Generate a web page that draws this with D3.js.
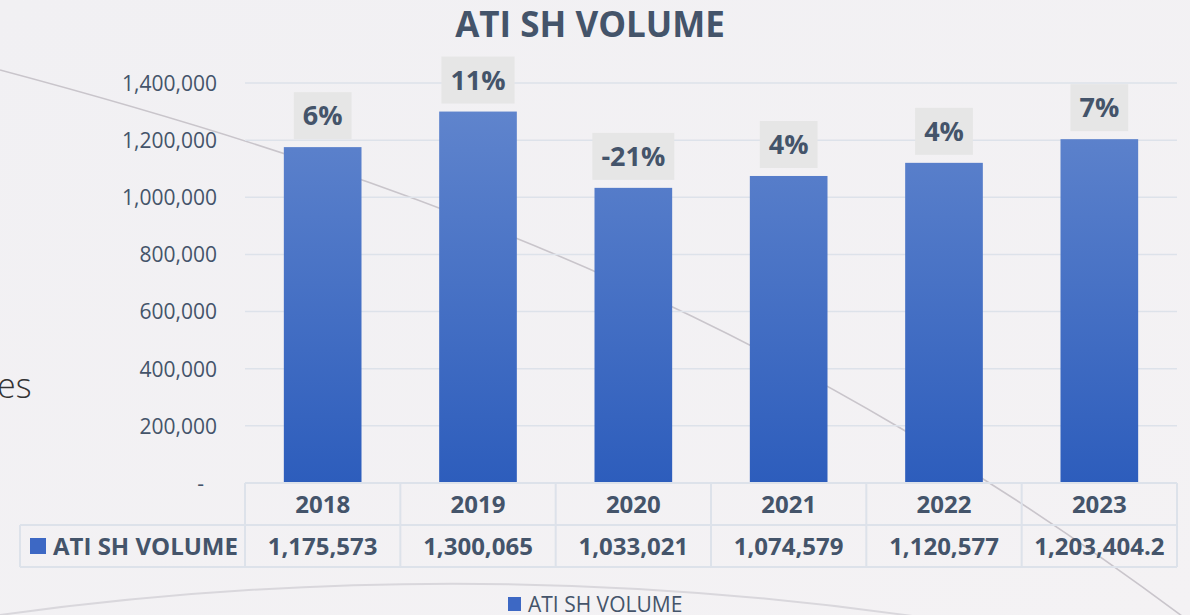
<!DOCTYPE html>
<html>
<head>
<meta charset="utf-8">
<script src="https://cdn.jsdelivr.net/npm/d3@7"></script>
<style>
    html, body { margin: 0; padding: 0; background: #f2f1f4; }
    svg { display: block; font-family: "Open Sans", "Noto Sans", sans-serif; }
</style>
</head>
<body>
<div id="chart"></div>
<script>
// Data
const years = ['2018', '2019', '2020', '2021', '2022', '2023'];
const volumes = [1175573, 1300065, 1033021, 1074579, 1120577, 1203404.2];
const volumeLabels = ['1,175,573', '1,300,065', '1,033,021', '1,074,579', '1,120,577', '1,203,404.2'];
const growthLabels = ['6%', '11%', '-21%', '4%', '4%', '7%'];
const yTicks = [0, 200000, 400000, 600000, 800000, 1000000, 1200000, 1400000];
const seriesName = 'ATI SH VOLUME';

const WIDTH = 1190;
const HEIGHT = 615;
const TEXT_COLOR = '#44546a';
const GRID_COLOR = '#dde2ea';

const plot = { left: 245, right: 1177, top: 83, bottom: 483 };
const rowHeight = 42;

const svg = d3.select('#chart')
    .append('svg')
    .attr('width', WIDTH)
    .attr('height', HEIGHT);

const defs = svg.append('defs');

// soft slide background
const bgGrad = defs.append('linearGradient')
    .attr('id', 'bg-grad')
    .attr('x1', 0).attr('y1', 0).attr('x2', 1).attr('y2', 1);
bgGrad.append('stop').attr('offset', '0%').attr('stop-color', '#f1f0f3');
bgGrad.append('stop').attr('offset', '100%').attr('stop-color', '#f4f2f4');

const barGrad = defs.append('linearGradient')
    .attr('id', 'bar-grad')
    .attr('gradientUnits', 'userSpaceOnUse')
    .attr('x1', 0).attr('y1', plot.top)
    .attr('x2', 0).attr('y2', plot.bottom);
barGrad.append('stop').attr('offset', '0%').attr('stop-color', '#6387ce');
barGrad.append('stop').attr('offset', '100%').attr('stop-color', '#2d5dbc');

svg.append('rect')
    .attr('width', WIDTH)
    .attr('height', HEIGHT)
    .attr('fill', 'url(#bg-grad)');

// Decorative slide curves behind the chart
svg.append('path')
    .attr('d', 'M0,70 C450,190 800,330 1190,622')
    .attr('fill', 'none')
    .attr('stroke', '#c9c5cb')
    .attr('stroke-width', 1.6);

svg.append('path')
    .attr('d', 'M0,615 Q470,550 940,620')
    .attr('fill', 'none')
    .attr('stroke', '#d9d7dc')
    .attr('stroke-width', 2);

svg.append('text')
    .attr('x', -3)
    .attr('y', 398)
    .attr('font-size', 34)
    .attr('font-weight', 300)
    .attr('fill', '#333')
    .text('es');

// Scales
const x = d3.scaleBand()
    .domain(years)
    .range([plot.left, plot.right])
    .paddingInner(0.5)
    .paddingOuter(0.25);

const y = d3.scaleLinear()
    .domain([0, 1400000])
    .range([plot.bottom, plot.top]);

const step = x.step();
const cellLeft = d => x(d) - x.paddingInner() * step / 2;

// Title
svg.append('text')
    .attr('x', 590)
    .attr('y', 37)
    .attr('text-anchor', 'middle')
    .attr('font-size', 35)
    .attr('font-weight', 700)
    .attr('fill', TEXT_COLOR)
    .text(seriesName);

// Gridlines
svg.append('g')
    .selectAll('line')
    .data(yTicks.filter(t => t > 0))
    .join('line')
    .attr('x1', plot.left)
    .attr('x2', plot.right)
    .attr('y1', d => y(d))
    .attr('y2', d => y(d))
    .attr('stroke', GRID_COLOR)
    .attr('stroke-width', 1.5);

// Y axis labels
const yAxis = d3.axisLeft(y)
    .tickValues(yTicks)
    .tickSize(0)
    .tickPadding(0)
    .tickFormat(d => d === 0 ? '-' : d3.format(',')(d));

const yAxisG = svg.append('g')
    .attr('transform', `translate(${plot.left - 28},0)`)
    .call(yAxis);
yAxisG.select('.domain').remove();
yAxisG.selectAll('text')
    .attr('font-size', 21)
    .attr('font-family', '"Open Sans", sans-serif')
    .attr('fill', TEXT_COLOR)
    .attr('dy', '0.35em');
yAxisG.selectAll('.tick')
    .filter(d => d === 0)
    .select('text')
    .attr('dx', -13);

// Bars
svg.append('g')
    .selectAll('rect')
    .data(years)
    .join('rect')
    .attr('x', d => x(d))
    .attr('width', x.bandwidth())
    .attr('y', (d, i) => y(volumes[i]))
    .attr('height', (d, i) => y(0) - y(volumes[i]))
    .attr('fill', 'url(#bar-grad)');

// Growth labels with boxes
const labels = svg.append('g')
    .selectAll('g')
    .data(years)
    .join('g')
    .attr('transform', (d, i) => `translate(${x(d) + x.bandwidth() / 2},${y(volumes[i]) - 8})`);

labels.append('rect')
    .attr('fill', '#e6e6e6');

const labelText = labels.append('text')
    .attr('text-anchor', 'middle')
    .attr('y', -14)
    .attr('font-size', 27)
    .attr('font-weight', 700)
    .attr('fill', TEXT_COLOR)
    .text((d, i) => growthLabels[i]);

labelText.each(function () {
    const w = this.getComputedTextLength();
    d3.select(this.parentNode).select('rect')
        .attr('x', -w / 2 - 9)
        .attr('y', -47)
        .attr('width', w + 18)
        .attr('height', 47);
});

// Data table
const table = svg.append('g');
const headTop = plot.bottom;
const rowTop = headTop + rowHeight;
const rowBottom = rowTop + rowHeight;

const borders = [
    [plot.left, headTop, plot.right, headTop],
    [20, rowTop, plot.right, rowTop],
    [20, rowBottom, plot.right, rowBottom],
    [20, rowTop, 20, rowBottom]
];
years.forEach(d => borders.push([cellLeft(d), headTop, cellLeft(d), rowBottom]));
borders.push([plot.right, headTop, plot.right, rowBottom]);

table.selectAll('line')
    .data(borders)
    .join('line')
    .attr('x1', d => d[0])
    .attr('y1', d => d[1])
    .attr('x2', d => d[2])
    .attr('y2', d => d[3])
    .attr('stroke', GRID_COLOR)
    .attr('stroke-width', 2);

table.selectAll('.year')
    .data(years)
    .join('text')
    .attr('class', 'year')
    .attr('x', d => x(d) + x.bandwidth() / 2)
    .attr('y', headTop + 30)
    .attr('text-anchor', 'middle')
    .attr('font-size', 24)
    .attr('font-weight', 700)
    .attr('fill', TEXT_COLOR)
    .text(d => d);

table.selectAll('.value')
    .data(years)
    .join('text')
    .attr('class', 'value')
    .attr('x', d => x(d) + x.bandwidth() / 2)
    .attr('y', rowTop + 30)
    .attr('text-anchor', 'middle')
    .attr('font-size', 24)
    .attr('font-weight', 700)
    .attr('fill', TEXT_COLOR)
    .text((d, i) => volumeLabels[i]);

table.append('rect')
    .attr('x', 30)
    .attr('y', rowTop + 13)
    .attr('width', 16)
    .attr('height', 16)
    .attr('fill', '#3d68c4');

table.append('text')
    .attr('x', 53)
    .attr('y', rowTop + 30)
    .attr('font-size', 24)
    .attr('font-weight', 700)
    .attr('fill', TEXT_COLOR)
    .text(seriesName);

// Bottom legend
const legend = svg.append('g')
    .attr('transform', 'translate(508,597)');

legend.append('rect')
    .attr('width', 13)
    .attr('height', 14)
    .attr('fill', '#3d68c4');

legend.append('text')
    .attr('x', 20)
    .attr('y', 15)
    .attr('font-size', 21)
    .attr('fill', TEXT_COLOR)
    .text(seriesName);
</script>
</body>
</html>
